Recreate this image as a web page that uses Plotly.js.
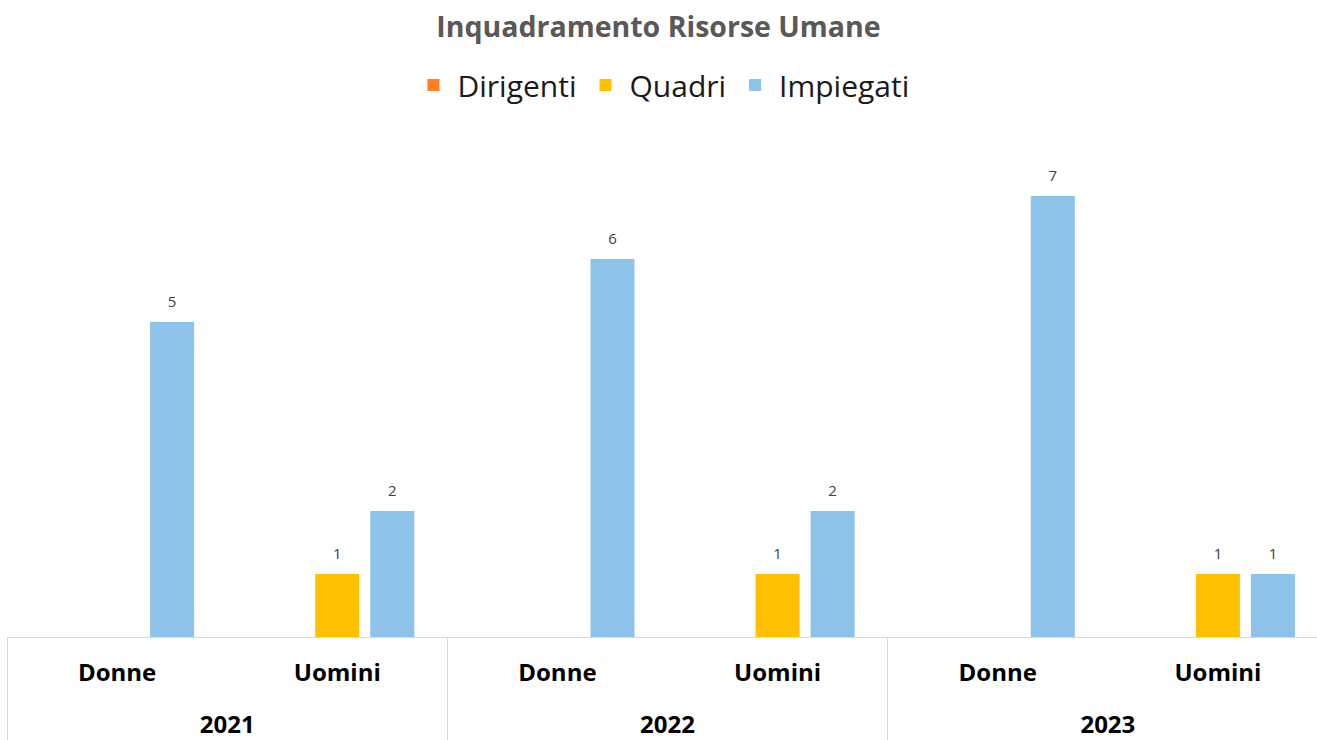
<!DOCTYPE html>
<html>
<head>
<meta charset="utf-8">
<script src="https://cdn.plot.ly/plotly-3.0.1.min.js"></script>
<style>html,body{margin:0;padding:0;background:#fff;}#chart{width:1317px;height:740px;}</style>
</head>
<body>
<div id="chart"></div>
<script>
const years = ['2021', '2021', '2022', '2022', '2023', '2023'];
const genders = ['Donne', 'Uomini', 'Donne', 'Uomini', 'Donne', 'Uomini'];
const dirigenti = [null, null, null, null, null, null];
const quadri = [null, 1, null, 1, null, 1];
const impiegati = [5, 2, 6, 2, 7, 1];
const seriesNames = ['Dirigenti', 'Quadri', 'Impiegati'];
const seriesColors = ['#ff7f27', '#ffc000', '#8dc3e8'];
const seriesValues = [dirigenti, quadri, impiegati];

const FONT = '"Open Sans", "Noto Sans", sans-serif';

const traces = seriesNames.map((name, i) => ({
  type: 'bar',
  name: name,
  x: [years, genders],
  y: seriesValues[i],
  marker: {color: seriesColors[i]},
  text: seriesValues[i].map(v => v === null ? '' : String(v)),
  texttemplate: '<span style="font-size:15px">%{text}</span><br> ',
  textposition: 'outside',
  cliponaxis: false,
  textfont: {family: FONT, size: 8, color: '#404040'},
  hoverinfo: 'x+y+name'
}));

// spacing between the two label rows (display only)
const genderAlias = {};
[...new Set(genders)].forEach(g => { genderAlias[g] = g + '<br> '; });

const layout = {
  width: 1317,
  height: 740,
  margin: {l: 7, r: 0, t: 133, b: 103},
  paper_bgcolor: '#ffffff',
  plot_bgcolor: '#ffffff',
  barmode: 'group',
  bargap: 0.25,
  bargroupgap: 0.2,
  title: {
    text: 'Inquadramento Risorse Umane',
    font: {family: FONT, size: 28.5, color: '#595959', weight: 'bold'},
    x: 0.5, xanchor: 'center', y: 0.9635, yanchor: 'middle'
  },
  showlegend: true,
  legend: {
    orientation: 'h',
    x: 0.5, xanchor: 'center',
    y: 1.095, yanchor: 'middle',
    font: {family: FONT, size: 30, color: '#1a1a1a'},
    itemwidth: 38,
    traceorder: 'normal'
  },
  xaxis: {
    type: 'multicategory',
    range: [-0.5, 5.45],
    showline: true,
    linecolor: '#d9d9d9',
    linewidth: 1,
    showdividers: true,
    dividercolor: '#d9d9d9',
    dividerwidth: 1,
    ticks: '',
    ticklabelstandoff: 14,
    labelalias: genderAlias,
    tickfont: {family: FONT, size: 24, color: '#000000', weight: 'bold'},
    showgrid: false,
    zeroline: false
  },
  yaxis: {
    range: [0, 8],
    visible: false,
    showgrid: false,
    zeroline: false
  }
};

Plotly.newPlot('chart', traces, layout, {displayModeBar: false, staticPlot: true});
</script>
</body>
</html>
